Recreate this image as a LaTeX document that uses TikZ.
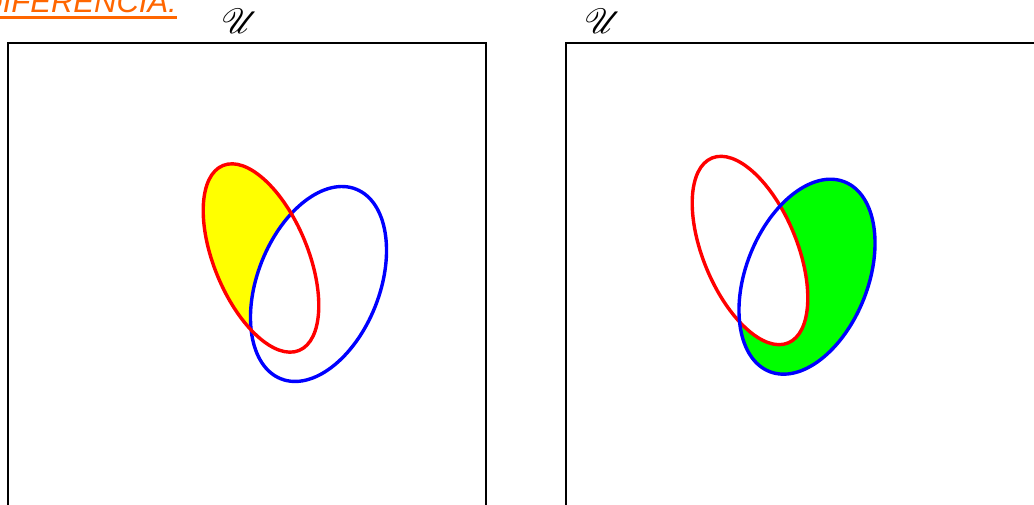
\documentclass[tikz,border=0pt]{standalone}
\usepackage{fontspec}
\setmainfont{Liberation Sans}
\usepackage{graphicx}
\usepackage{mathrsfs}
\definecolor{vorange}{RGB}{255,102,0}
\definecolor{vred}{RGB}{255,0,0}
\definecolor{vblue}{RGB}{0,0,255}
\definecolor{vyellow}{RGB}{255,255,0}
\definecolor{vgreen}{RGB}{0,255,0}
\tikzset{
  frame/.style={draw=black, line width=2.3pt},
  redset/.style={draw=vred, line width=3.4pt},
  blueset/.style={draw=vblue, line width=3.4pt},
  ulabel/.style={inner sep=0pt},
}
\newcommand{\univsym}{\scalebox{3.5}{$\mathscr{U}$}}
\begin{document}
\begin{tikzpicture}[x=1pt,y=1pt]
\useasboundingbox (0,0) rectangle (1034,505);
\clip (0,0) rectangle (1034,505);
\fill[white] (0,0) rectangle (1034,505);
% title
\node[inner sep=0pt, anchor=base east, text=vorange, font=\fontsize{31}{31}\selectfont\itshape] (title) at (177,492) {DIFERENCIA:};
\draw[vorange, line width=2.4pt] (0,487.5) -- (177,487.5);
% universe labels
\node[ulabel] (u1) at (240,483.5) {\univsym};
\node[ulabel] (u2) at (603,483.5) {\univsym};
% frames
\draw[frame] (8,-20) rectangle (486,462);
\draw[frame] (566,-20) rectangle (1100,462);
% left panel: A - B
\fill[vyellow, rotate around={22.4:(261,247)}] (261,247) ellipse (47 and 100);
\fill[white, rotate around={-21.6:(318.5,221)}] (318.5,221) ellipse (61 and 102);
\draw[blueset, rotate around={-21.6:(318.5,221)}] (318.5,221) ellipse (61 and 102);
\draw[redset, rotate around={22.4:(261,247)}] (261,247) ellipse (47 and 100);
% right panel: B - A
\fill[vgreen, rotate around={-21.6:(807,228.3)}] (807,228.3) ellipse (61 and 102);
\fill[white, rotate around={22.4:(750,254.5)}] (750,254.5) ellipse (47 and 100);
\draw[redset, rotate around={22.4:(750,254.5)}] (750,254.5) ellipse (47 and 100);
\draw[blueset, rotate around={-21.6:(807,228.3)}] (807,228.3) ellipse (61 and 102);
\end{tikzpicture}
\end{document}
